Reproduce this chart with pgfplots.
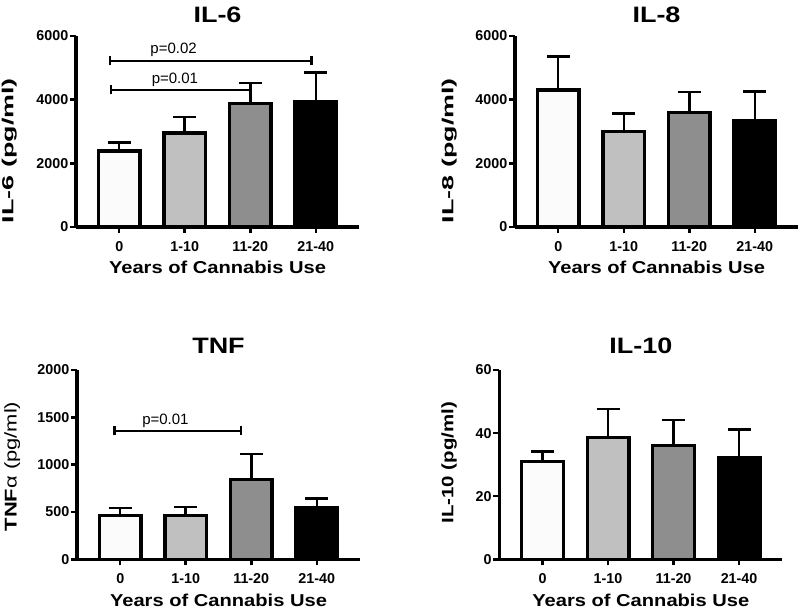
\documentclass[border=0pt]{standalone}
\usepackage{pgfplots}
\pgfplotsset{compat=1.18}
\usepackage{fontspec}
\setmainfont{Liberation Sans}
\usepackage{graphicx}

\definecolor{barA}{HTML}{FBFBFB}
\definecolor{barB}{HTML}{C0C0C0}
\definecolor{barC}{HTML}{8E8E8E}
\definecolor{barD}{HTML}{000000}

\pgfplotsset{
  every axis title/.style={at={(axis description cs:0.5,1)}, anchor=base,
    font=\bfseries\fontsize{22.3}{23}\selectfont},
  every axis x label/.style={at={(axis description cs:0.5,0)}, anchor=base, yshift=-47pt,
    font=\bfseries\fontsize{17.2}{18}\selectfont},
  every axis y label/.style={rotate=90, anchor=base},
  panel/.style={
    scale only axis, width=283pt,
    xmin=-0.66, xmax=3.66, ymin=0,
    axis x line*=bottom, axis y line*=left,
    axis line style={line width=3.3pt, black},
    xtick={0,1,2,3}, xticklabels={0,1-10,11-20,21-40},
    tick align=outside, major tick length=6pt,
    tick style={line width=2.5pt, black},
    ticklabel style={font=\bfseries\fontsize{14.3}{15}\selectfont},
    /pgf/number format/assume math mode=true,
    /pgf/number format/1000 sep={},
    yticklabel style={inner xsep=1.5pt},
    xticklabel style={yshift=-5pt},
    clip=false,
    xlabel={\scalebox{1.17}[1]{Years of Cannabis Use}},
  },
  gbar/.style={ybar, bar width=0.635, bar shift=0pt, draw=black, line width=3.3pt, fill=#1,
    error bars/.cd, y dir=plus, y explicit,
    error bar style={line width=2.5pt, black},
    error mark options={rotate=90, line width=2.5pt, mark size=11.5pt, black}},
}

% significance bracket: x1, x2, y, label x, label y, label
\newcommand{\pbracket}[6]{%
  \draw[line width=2.2pt] (axis cs:#1,#3) -- (axis cs:#2,#3);
  \draw[line width=2.2pt] ([yshift=-4.5pt]axis cs:#1,#3) -- ([yshift=4.5pt]axis cs:#1,#3);
  \draw[line width=2.2pt] ([yshift=-4.5pt]axis cs:#2,#3) -- ([yshift=4.5pt]axis cs:#2,#3);
  \node[anchor=base, font=\fontsize{15}{15}\selectfont] at (axis cs:#4,#5) {#6};
}

\begin{document}
\begin{tikzpicture}
\useasboundingbox (0,0) rectangle (800pt,609pt);

% IL-6
\begin{axis}[panel, at={(76pt,382pt)}, anchor=south west, height=191pt,
  ymax=6000, ytick={0,2000,4000,6000},
  title={\scalebox{1.21}[1]{IL-6}}, title style={yshift=13.3pt},
  ylabel={\scalebox{1.68}[1]{\fontsize{16}{16}\selectfont\bfseries IL-6 (pg/ml)}},
  ylabel style={at={([xshift=-62.7pt]axis description cs:0,0.40)}}]
\addplot[gbar=barA] coordinates {(0,2390) +- (0,270)};
\addplot[gbar=barB] coordinates {(1,2950) +- (0,500)};
\addplot[gbar=barC] coordinates {(2,3890) +- (0,640)};
\addplot[gbar=barD] coordinates {(3,3950) +- (0,900)};
\pbracket{-0.145}{2.935}{5215}{0.83}{5435}{p=0.02}
\pbracket{-0.12}{2.0}{4304}{0.85}{4514}{p=0.01}
\end{axis}

% IL-8
\begin{axis}[panel, at={(515pt,382pt)}, anchor=south west, height=191pt,
  ymax=6000, ytick={0,2000,4000,6000},
  title={\scalebox{1.21}[1]{IL-8}}, title style={yshift=13.3pt},
  ylabel={\scalebox{1.68}[1]{\fontsize{16}{16}\selectfont\bfseries IL-8 (pg/ml)}},
  ylabel style={at={([xshift=-61.7pt]axis description cs:0,0.40)}}]
\addplot[gbar=barA] coordinates {(0,4300) +- (0,1060)};
\addplot[gbar=barB] coordinates {(1,3010) +- (0,550)};
\addplot[gbar=barC] coordinates {(2,3600) +- (0,640)};
\addplot[gbar=barD] coordinates {(3,3330) +- (0,920)};
\end{axis}

% TNF
\begin{axis}[panel, at={(77pt,49.7pt)}, anchor=south west, height=189.3pt,
  ymax=2000, ytick={0,500,1000,1500,2000},
  title={\scalebox{1.21}[1]{TNF}}, title style={yshift=16.7pt},
  ylabel={\scalebox{1.29}[1]{\fontsize{17}{17}\selectfont\bfseries TNF{\mdseries α (pg/ml)}}},
  ylabel style={at={([xshift=-60.3pt]axis description cs:0,0.49)}}]
\addplot[gbar=barA] coordinates {(0,463) +- (0,77)};
\addplot[gbar=barB] coordinates {(1,460) +- (0,90)};
\addplot[gbar=barC] coordinates {(2,845) +- (0,270)};
\addplot[gbar=barD] coordinates {(3,542) +- (0,98)};
\pbracket{-0.087}{1.843}{1356}{0.69}{1419}{p=0.01}
\end{axis}

% IL-10
\begin{axis}[panel, at={(499.3pt,49.7pt)}, anchor=south west, height=189.3pt,
  ymax=60, ytick={0,20,40,60},
  title={\scalebox{1.21}[1]{IL-10}}, title style={yshift=16.7pt},
  ylabel={\scalebox{1.24}[1]{\fontsize{16.5}{16.5}\selectfont\bfseries IL-10 (pg/ml)}},
  ylabel style={at={([xshift=-46pt]axis description cs:0,0.51)}}]
\addplot[gbar=barA] coordinates {(0,31.0) +- (0,3.2)};
\addplot[gbar=barB] coordinates {(1,38.7) +- (0,9.0)};
\addplot[gbar=barC] coordinates {(2,36.1) +- (0,8.0)};
\addplot[gbar=barD] coordinates {(3,32.1) +- (0,9.1)};
\end{axis}
\end{tikzpicture}
\end{document}
